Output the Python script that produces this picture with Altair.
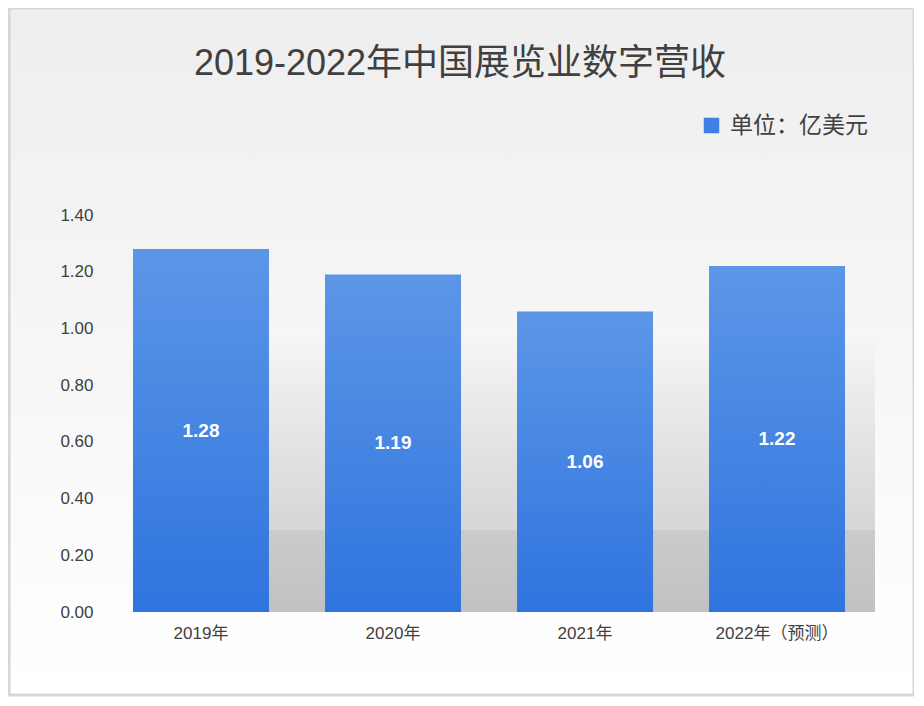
import altair as alt
import pandas as pd

years = ['2019年', '2020年', '2021年', '2022年（预测）']
revenue = [1.28, 1.19, 1.06, 1.22]
unit_label = ['单位：亿美元']

FONT = 'Liberation Sans, Noto Sans CJK SC'
W, H = 768, 397


def vgrad(top, bottom):
    return alt.Gradient(gradient='linear', x1=0, y1=0, x2=0, y2=1,
                        stops=[alt.GradientStop(color=top, offset=0),
                               alt.GradientStop(color=bottom, offset=1)])


df = pd.DataFrame({'year': years, 'revenue': revenue})
legend_df = pd.DataFrame({'unit': unit_label})

x_enc = alt.X('year:N', sort=years, title=None,
              scale=alt.Scale(paddingInner=0.2917, paddingOuter=0.1458),
              axis=alt.Axis(labelAngle=0, domain=False, ticks=False, labelPadding=13,
                            labelFontSize=17, labelColor='#404040', labelFont=FONT,
                            zindex=2))
y_scale = alt.Scale(domain=[0, 1.4])

# background panel with a soft grey-to-white fade and a grey frame
frame = alt.Chart(legend_df).mark_rect(
    fill=vgrad('#eeeeee', '#ffffff'), stroke='#d6d6d6', strokeWidth=3
).encode(x=alt.value(-96), x2=alt.value(809), y=alt.value(-207), y2=alt.value(480))

# decorative floor shadow behind the bars
shadow_fade = alt.Chart(legend_df).mark_rect(
    fill=vgrad('rgba(205,205,205,0)', '#d6d6d6')
).encode(x=alt.value(28), x2=alt.value(770), y=alt.value(120), y2=alt.value(315))
shadow = alt.Chart(legend_df).mark_rect(
    fill=vgrad('#cbcbcb', '#c2c2c2')
).encode(x=alt.value(28), x2=alt.value(770), y=alt.value(315), y2=alt.value(397))

bars = alt.Chart(df).mark_bar(fill=vgrad('#5c96e7', '#2f74de')).encode(
    x=x_enc,
    y=alt.Y('revenue:Q', scale=y_scale, title=None,
            axis=alt.Axis(values=[0, 0.2, 0.4, 0.6, 0.8, 1.0, 1.2, 1.4], format='.2f',
                          grid=False, domain=False, ticks=False, labelPadding=12,
                          labelFontSize=17, labelColor='#404040', labelFont=FONT,
                          zindex=2))
)

labels = alt.Chart(df).transform_calculate(
    mid='datum.revenue / 2'
).mark_text(color='white', fontSize=19, fontWeight='bold', font=FONT).encode(
    x=x_enc,
    y=alt.Y('mid:Q', scale=y_scale),
    text=alt.Text('revenue:Q', format='.2f')
)

legend_layer = alt.Chart(legend_df).mark_square(opacity=0).encode(
    color=alt.Color('unit:N', title=None,
                    scale=alt.Scale(range=['#3f80e2']),
                    legend=alt.Legend(orient='none', legendX=595, legendY=-101,
                                      symbolType='square', symbolSize=240,
                                      symbolOpacity=1, symbolStrokeWidth=0,
                                      labelFontSize=23, labelColor='#404040',
                                      labelFont=FONT, labelOffset=7))
)

chart = alt.layer(frame, shadow_fade, shadow, bars, labels, legend_layer).properties(
    width=W, height=H,
    title=alt.TitleParams('2019-2022年中国展览业数字营收', fontSize=36, font=FONT,
                          fontWeight='normal', color='#404040', anchor='middle',
                          frame='group', dx=-29, offset=-76),
    autosize=alt.AutoSizeParams(type='none'),
    padding={'left': 97, 'top': 207, 'right': 41, 'bottom': 86}
).configure_view(stroke=None).configure(background='white')

chart.save("out.html", embed_options={"renderer": "svg", "actions": False})
